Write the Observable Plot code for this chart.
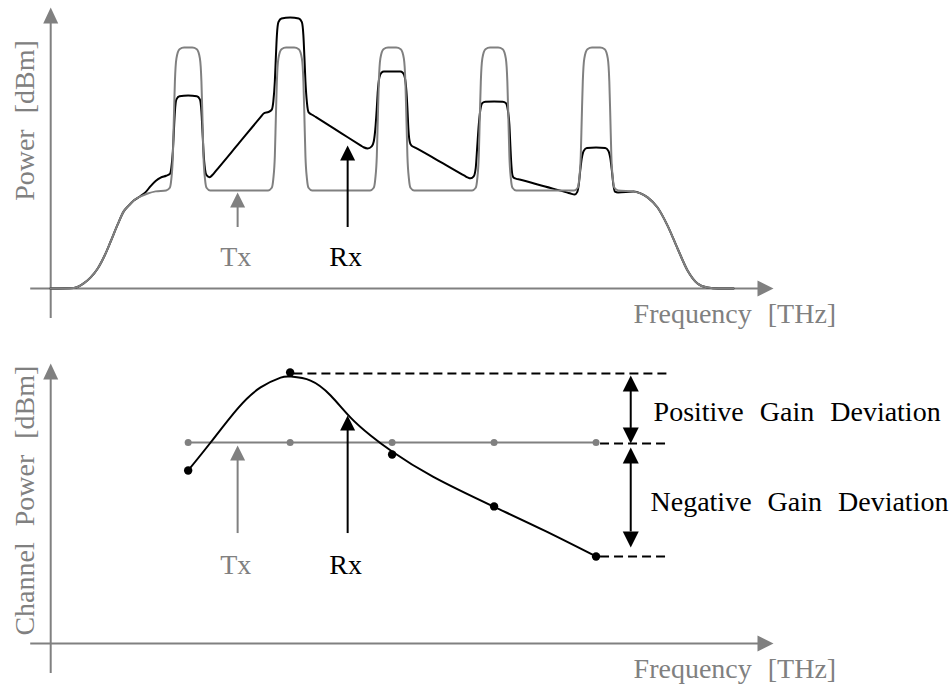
<!DOCTYPE html>
<html><head><meta charset="utf-8">
<script src="https://cdn.jsdelivr.net/npm/d3@7"></script>
<script src="https://cdn.jsdelivr.net/npm/@observablehq/plot@0.6"></script>
<style>
body{margin:0;background:#fff;}
#chart svg{display:block;}
#chart text{word-spacing:9px;}
</style></head><body><div id="chart"></div>
<script>
// Frequency offsets (GHz, arbitrary origin) of the five WDM channels
const channelFreqs = [100, 200, 300, 400, 500];

// Top panel: spectra [frequency offset (GHz), power (dB, relative)]
const txSpectrum = [
  [-35,0],[-12,0.02],[-2.5,0.21],[4.4,0.46],[11.3,0.83],[18.1,1.37],[24,1.95],[30.9,2.66],[36.8,3.2],[41.7,3.44],[46.6,3.65],[53.4,3.82],[60.3,3.94],[68.1,4.03],
  [78.4,4.07],[82,4.18],[83.5,4.55],[85,5.5],[86,7.1],[87,8.6],[88.5,9.55],[91.5,9.93],[96,10],[104,10],[108.5,9.93],[111.5,9.55],[113,8.6],[114,7.1],[115,5.5],[116.5,4.55],[118,4.18],[121.6,4.07],
  [178.4,4.07],[182,4.18],[183.5,4.55],[185,5.5],[186,7.1],[187,8.6],[188.5,9.55],[191.5,9.93],[196,10],[204,10],[208.5,9.93],[211.5,9.55],[213,8.6],[214,7.1],[215,5.5],[216.5,4.55],[218,4.18],[221.6,4.07],
  [278.4,4.07],[282,4.18],[283.5,4.55],[285,5.5],[286,7.1],[287,8.6],[288.5,9.55],[291.5,9.93],[296,10],[304,10],[308.5,9.93],[311.5,9.55],[313,8.6],[314,7.1],[315,5.5],[316.5,4.55],[318,4.18],[321.6,4.07],
  [378.4,4.07],[382,4.18],[383.5,4.55],[385,5.5],[386,7.1],[387,8.6],[388.5,9.55],[391.5,9.93],[396,10],[404,10],[408.5,9.93],[411.5,9.55],[413,8.6],[414,7.1],[415,5.5],[416.5,4.55],[418,4.18],[421.6,4.07],
  [478.4,4.07],[482,4.18],[483.5,4.55],[485,5.5],[486,7.1],[487,8.6],[488.5,9.55],[491.5,9.93],[496,10],[504,10],[508.5,9.93],[511.5,9.55],[513,8.6],[514,7.1],[515,5.5],[516.5,4.55],[518,4.18],[521.6,4.07],
  [536.8,4.02],[543.6,3.95],[550.5,3.78],[560.3,3.36],[570.1,2.61],[579.9,1.66],[589.7,0.75],[599.5,0.21],[609.3,0.04],[620,0],[634.8,0]
];
const rxSpectrum = [
  [-35,0],[-12,0.02],[-2.5,0.21],[4.4,0.46],[11.3,0.83],[18.1,1.37],[24,1.95],[30.9,2.66],[36.8,3.2],[41.7,3.44],[46.6,3.65],[53.4,3.84],[58.3,4.0],[63.2,4.25],[68.1,4.46],[73,4.6],[78.4,4.68],
  [82,4.75],[83.5,5.0],[85,5.7],[86,6.55],[87,7.35],[88.5,7.85],[91.5,7.98],[100,8.01],[108.5,7.98],[111.5,7.85],[113,7.35],[114,6.55],[115,5.7],[116.5,4.95],[118,4.7],[121,4.62],[124,4.72],
  [127,4.87],[150,6.04],[171,7.11],[174,7.26],[179,7.33],
  [182,7.42],[183.5,7.75],[185,8.6],[186,9.6],[187,10.5],[188.5,11.05],[191.5,11.2],[200,11.24],[208.5,11.2],[211.5,11.05],[213,10.5],[214,9.6],[215,8.6],[216.5,7.7],[218,7.32],[222,7.2],
  [225,7.12],[250,6.45],[269,5.94],[272,5.86],[276,5.81],
  [280,5.9],[282,6.1],[283.5,6.6],[285,7.5],[286,8.2],[287.5,8.75],[289.5,8.95],[292,9.0],[300,9.0],[308,9.0],[310.5,8.95],[312.5,8.75],[314,8.2],[315,7.5],[316,6.6],[317.5,6.05],[319,5.93],[322,5.86],
  [325,5.79],[350,5.19],[371,4.68],[374,4.61],[377,4.57],
  [380,4.65],[382,5.0],[383.5,5.9],[385,6.8],[386.5,7.4],[388.5,7.7],[391.5,7.75],[400,7.76],[408.5,7.75],[411.5,7.7],[413.5,7.4],[415,6.8],[416,5.9],[417,5.1],[418,4.7],[419,4.61],[422,4.55],
  [425,4.52],[450,4.23],[472,3.98],[475,3.94],[479,3.9],
  [481.5,4.0],[483,4.3],[484.5,4.9],[486,5.4],[488,5.72],[491,5.83],[500,5.85],[509,5.83],[512,5.72],[514,5.4],[515.5,4.9],[517,4.3],[518.5,4.02],[521.6,3.98],
  [536.8,4.02],[543.6,3.95],[550.5,3.78],[560.3,3.36],[570.1,2.61],[579.9,1.66],[589.7,0.75],[599.5,0.21],[609.3,0.04],[620,0],[634.8,0]
];

// Bottom panel: channel powers
const txChannelPower = [10, 10, 10, 10, 10];
const rxChannelPower = [8.61, 13.48, 9.4, 6.82, 4.33];
const rxPowerFit = [
  [100,8.61],[122,10.0],[148.5,11.69],[171,12.74],[190.7,13.23],[200.5,13.28],[220,13.08],[239.7,12.34],[259.3,11.24],[278.9,10.35],[300,9.55],[340,8.3],[400,6.8],[450,5.6],[500,4.33]
];

// Text labels
const xLabel = "Frequency [THz]";
const yLabelTop = "Power [dBm]";
const yLabelBottom = "Channel Power [dBm]";
const txLabel = "Tx";
const rxLabel = "Rx";
const posLabel = "Positive Gain Deviation";
const negLabel = "Negative Gain Deviation";

const GRAY = "#808080";
const FONT = "Liberation Serif";

// arrow-head symbols with the tip at the anchor point
function head(w, h, dir) {
  return {draw(ctx) {
    if (dir === "up") { ctx.moveTo(0,0); ctx.lineTo(-w/2,h); ctx.lineTo(w/2,h); }
    else if (dir === "down") { ctx.moveTo(0,0); ctx.lineTo(-w/2,-h); ctx.lineTo(w/2,-h); }
    else { ctx.moveTo(0,0); ctx.lineTo(-h,-w/2); ctx.lineTo(-h,w/2); }
    ctx.closePath();
  }};
}
const txt = (s, o) => Plot.text([s], {text: d => d, fontFamily: FONT, fontSize: 28, lineAnchor: "bottom", ...o});

const xScale = {domain: [-35, 700], range: [50, 799.5]};

const topPlot = Plot.plot({
  width: 952, height: 330,
  x: {...xScale, axis: null},
  y: {domain: [0, 10], range: [288, 47], axis: null},
  marks: [
    Plot.ruleY([0], {x1: -54.4, x2: 660, stroke: GRAY, strokeWidth: 2}),
    Plot.ruleX([-34.8], {y1: -1.24, y2: 11.05, stroke: GRAY, strokeWidth: 2}),
    Plot.dot([0], {x: 674, y: 0, symbol: head(16, 16, "right"), fill: GRAY, stroke: null}),
    Plot.dot([0], {x: -34.8, y: 11.66, symbol: head(15, 16, "up"), fill: GRAY, stroke: null}),
    Plot.line(rxSpectrum, {x: d => d[0], y: d => d[1], curve: "monotone-x", stroke: "#000", strokeWidth: 2}),
    Plot.line(txSpectrum, {x: d => d[0], y: d => d[1], curve: "monotone-x", stroke: GRAY, strokeWidth: 2}),
    Plot.ruleX([148.5], {y1: 2.53, y2: 3.45, stroke: GRAY, strokeWidth: 2}),
    Plot.dot([0], {x: 148.5, y: 3.98, symbol: head(15, 15, "up"), fill: GRAY, stroke: null}),
    Plot.ruleX([256.4], {y1: 2.53, y2: 5.4, stroke: "#000", strokeWidth: 2}),
    Plot.dot([0], {x: 256.4, y: 5.93, symbol: head(15, 15, "up"), fill: "#000", stroke: null}),
    txt(txLabel, {x: 146.6, y: 0.95, fill: GRAY}),
    txt(rxLabel, {x: 254.4, y: 0.95, fill: "#000"}),
    txt(xLabel, {x: 536.8, y: -1.45, fill: GRAY, textAnchor: "start"}),
    txt(yLabelTop, {x: -51.5, y: 6.97, fill: GRAY, rotate: -90})
  ]
});

const bottomPlot = Plot.plot({
  width: 952, height: 355,
  x: {...xScale, axis: null},
  y: {domain: [0, 10], range: [313, 112], axis: null},
  marks: [
    Plot.ruleY([0], {x1: -54.4, x2: 660, stroke: GRAY, strokeWidth: 2}),
    Plot.ruleX([-34.8], {y1: -1.49, y2: 13.2, stroke: GRAY, strokeWidth: 2}),
    Plot.dot([0], {x: 674, y: 0, symbol: head(16, 16, "right"), fill: GRAY, stroke: null}),
    Plot.dot([0], {x: -34.8, y: 13.93, symbol: head(15, 16, "up"), fill: GRAY, stroke: null}),
    Plot.ruleY([13.43], {x1: 203.7, x2: 570, stroke: "#000", strokeWidth: 2, strokeDasharray: "9,5"}),
    Plot.ruleY([9.95], {x1: 504.4, x2: 570, stroke: "#000", strokeWidth: 2, strokeDasharray: "9,5"}),
    Plot.ruleY([4.33], {x1: 504.4, x2: 570, stroke: "#000", strokeWidth: 2, strokeDasharray: "9,5"}),
    Plot.line(channelFreqs, {x: d => d, y: (d, i) => txChannelPower[i], stroke: GRAY, strokeWidth: 2}),
    Plot.dot(channelFreqs, {x: d => d, y: (d, i) => txChannelPower[i], r: 3.5, fill: GRAY, stroke: null}),
    Plot.line(rxPowerFit, {x: d => d[0], y: d => d[1], curve: "natural", stroke: "#000", strokeWidth: 2}),
    Plot.dot(channelFreqs, {x: d => d, y: (d, i) => rxChannelPower[i], r: 4.2, fill: "#000", stroke: null}),
    Plot.ruleX([534], {y1: 10.7, y2: 12.58, stroke: "#000", strokeWidth: 2}),
    Plot.dot([0], {x: 534, y: 13.33, symbol: head(16, 16, "up"), fill: "#000", stroke: null}),
    Plot.dot([0], {x: 534, y: 9.95, symbol: head(16, 16, "down"), fill: "#000", stroke: null}),
    Plot.ruleX([534], {y1: 5.55, y2: 9.0, stroke: "#000", strokeWidth: 2}),
    Plot.dot([0], {x: 534, y: 9.75, symbol: head(16, 16, "up"), fill: "#000", stroke: null}),
    Plot.dot([0], {x: 534, y: 4.78, symbol: head(16, 16, "down"), fill: "#000", stroke: null}),
    Plot.ruleX([148.5], {y1: 5.47, y2: 9.15, stroke: GRAY, strokeWidth: 2}),
    Plot.dot([0], {x: 148.5, y: 9.85, symbol: head(15, 15, "up"), fill: GRAY, stroke: null}),
    Plot.ruleX([256.4], {y1: 5.47, y2: 10.65, stroke: "#000", strokeWidth: 2}),
    Plot.dot([0], {x: 256.4, y: 11.34, symbol: head(15, 15, "up"), fill: "#000", stroke: null}),
    txt(txLabel, {x: 146.6, y: 3.48, fill: GRAY}),
    txt(rxLabel, {x: 254.4, y: 3.48, fill: "#000"}),
    txt(posLabel, {x: 556.4, y: 11.09, fill: "#000", textAnchor: "start"}),
    txt(negLabel, {x: 553.4, y: 6.57, fill: "#000", textAnchor: "start"}),
    txt(xLabel, {x: 536.8, y: -1.74, fill: GRAY, textAnchor: "start"}),
    txt(yLabelBottom, {x: -51.5, y: 7.11, fill: GRAY, rotate: -90})
  ]
});

const chart = document.getElementById("chart");
chart.appendChild(topPlot);
chart.appendChild(bottomPlot);
</script></body></html>
